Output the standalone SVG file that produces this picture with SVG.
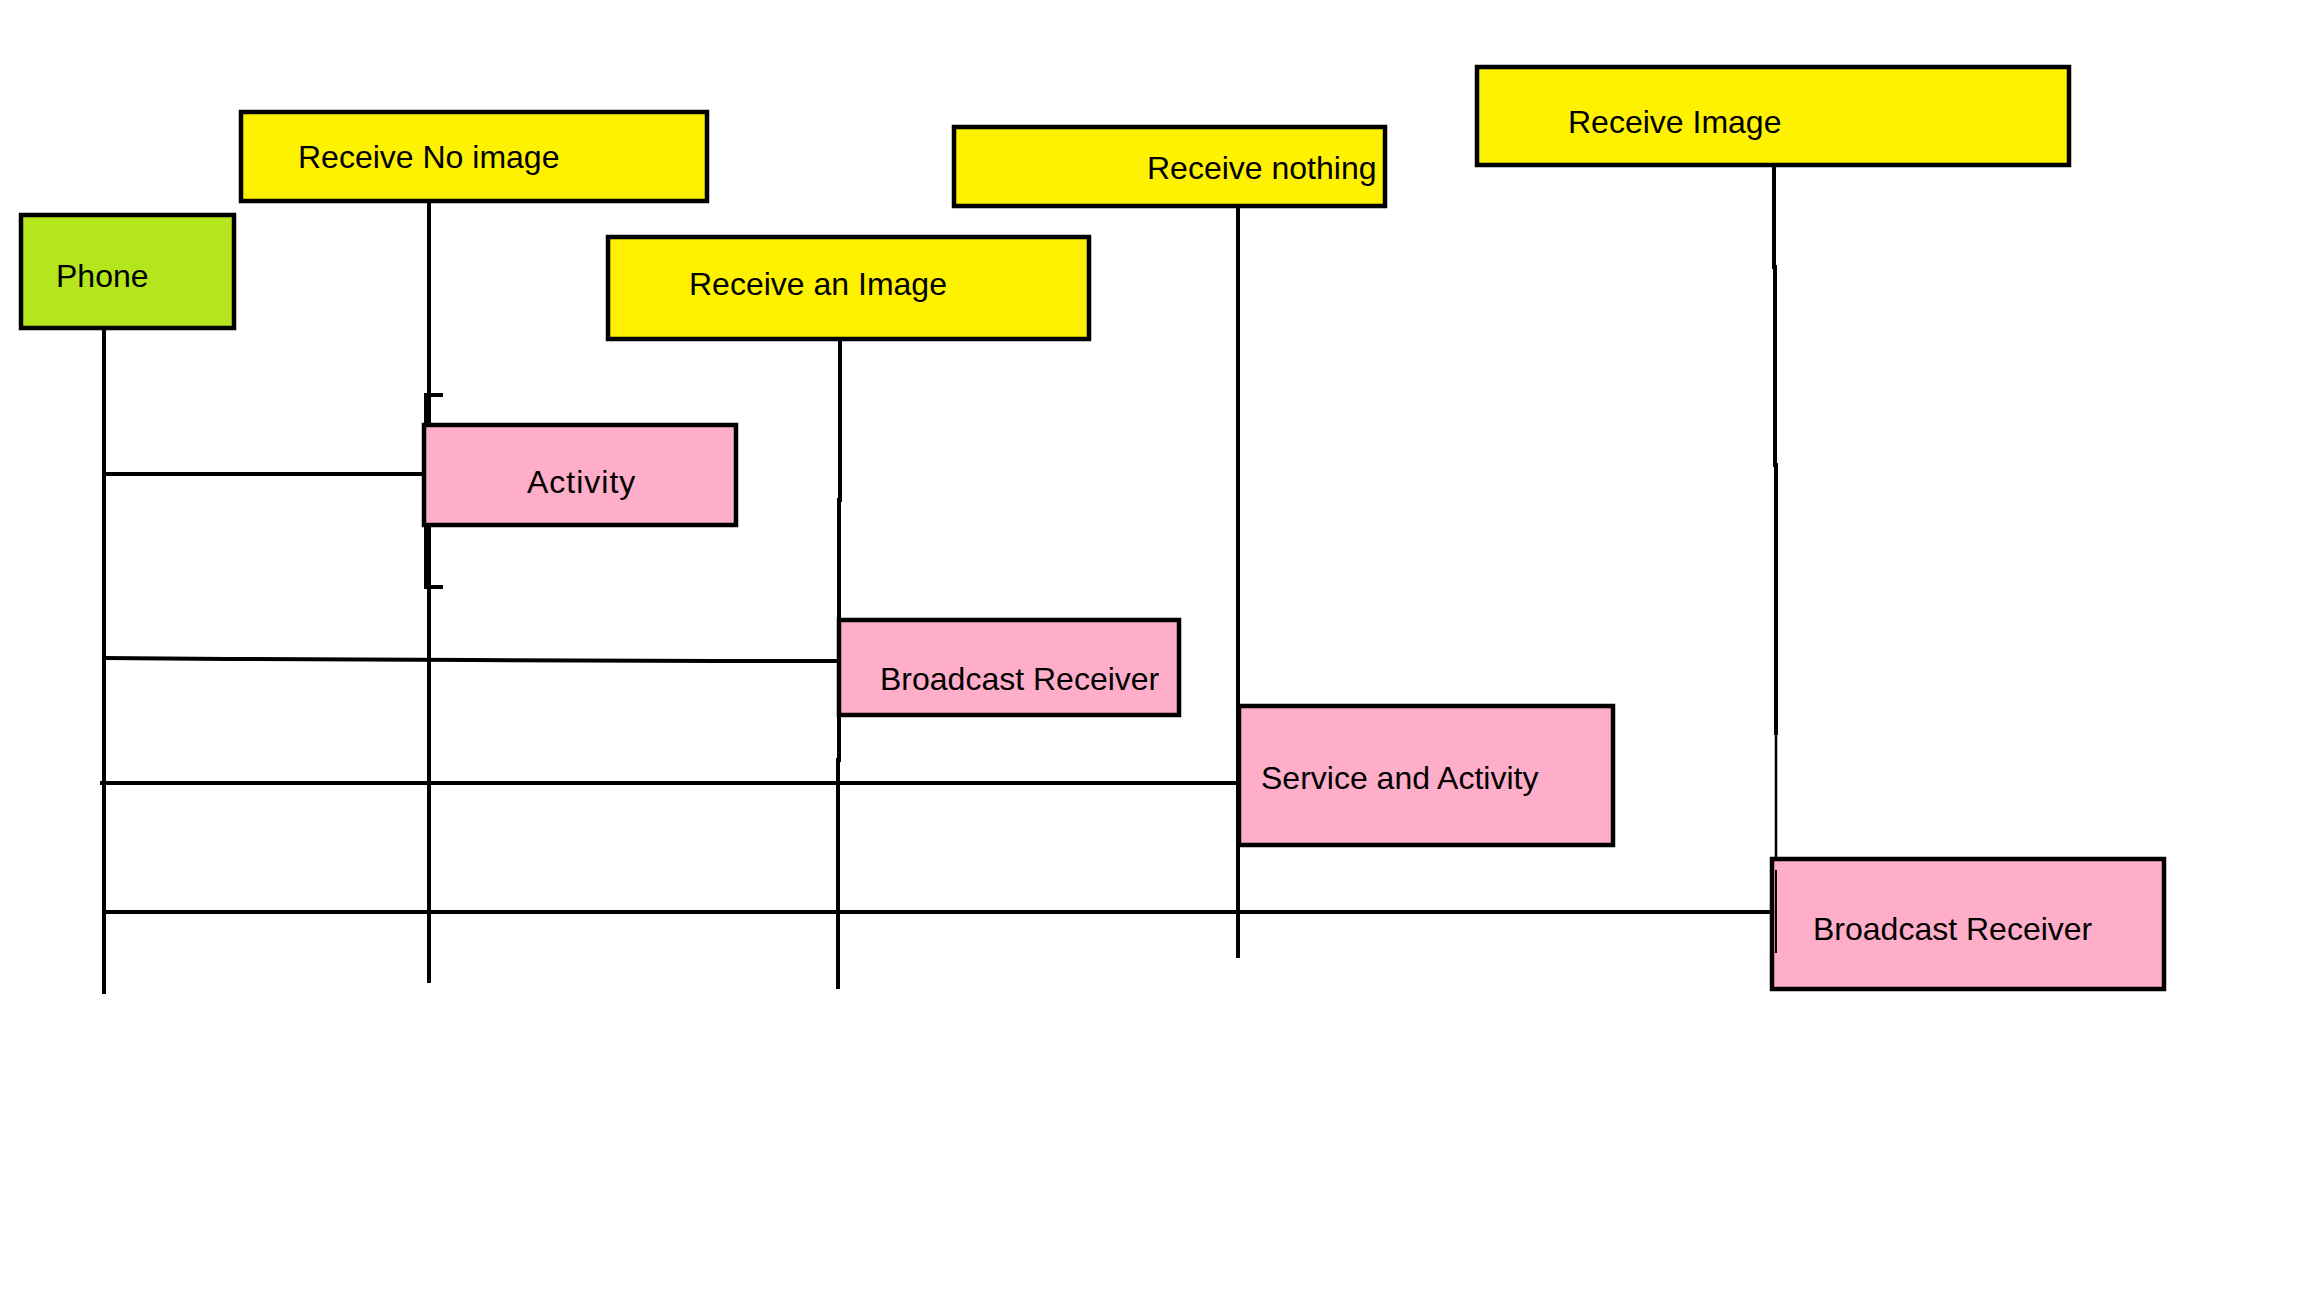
<svg xmlns="http://www.w3.org/2000/svg" width="2304" height="1296" viewBox="0 0 2304 1296">
<style>
.box{stroke:#000;stroke-width:4.5}
.obj{fill:#FFF200}
.phone{fill:#B5E61D}
.comp{fill:#FFAEC9}
.lbl{font-family:"Liberation Sans",Arial,sans-serif;font-size:32px;fill:#000}
.ln{stroke:#000;stroke-width:4;fill:none}
</style>
<rect width="2304" height="1296" fill="#fff"/>
<g id="connectors">
<path class="ln" d="M104,323 V994"/>
<path class="ln" d="M429,201 V983"/>
<path class="ln" d="M840,339 V500 L839,500 V760 L838,760 V989"/>
<path class="ln" d="M1238,206 V958"/>
<path class="ln" d="M1774,165 V267 L1775,267 V465 L1776,465 V735"/>
<path class="ln" style="stroke-width:2.5" d="M1776,735 V953"/>
<path class="ln" d="M104,474 H433"/>
<path class="ln" d="M104,658 L228,659 L472,660 L718,661 L837,661"/>
<path class="ln" d="M100,783 H1237"/>
<path class="ln" d="M104,912 H1770"/>
<path class="ln" d="M443,395 H426 V587 H443"/>
</g>
<g id="phone"><rect class="box phone" x="21" y="215" width="213" height="113"/><text class="lbl" x="56" y="287">Phone</text></g>
<g id="receive-no-image"><rect class="box obj" x="241" y="112" width="466" height="89"/><text class="lbl" x="298" y="168">Receive No image</text></g>
<g id="receive-an-image"><rect class="box obj" x="608" y="237" width="481" height="102"/><text class="lbl" x="689" y="295">Receive an Image</text></g>
<g id="receive-nothing"><rect class="box obj" x="954" y="127" width="431" height="79"/><text class="lbl" x="1147" y="179">Receive nothing</text></g>
<g id="receive-image"><rect class="box obj" x="1477" y="67" width="592" height="98"/><text class="lbl" x="1568" y="133">Receive Image</text></g>
<g id="activity"><rect class="box comp" x="424" y="425" width="312" height="100"/><text class="lbl" x="527" y="493" style="letter-spacing:1px">Activity</text></g>
<g id="broadcast-receiver-1"><rect class="box comp" x="839" y="620" width="340" height="95"/><text class="lbl" x="880" y="690">Broadcast Receiver</text></g>
<g id="service-and-activity"><rect class="box comp" x="1239" y="706" width="374" height="139"/><text class="lbl" x="1261" y="789">Service and Activity</text></g>
<g id="broadcast-receiver-2"><rect class="box comp" x="1772" y="859" width="392" height="130"/><text class="lbl" x="1813" y="940">Broadcast Receiver</text></g>
<path d="M1776,870 V953" stroke="#000" stroke-width="2"/>
</svg>
